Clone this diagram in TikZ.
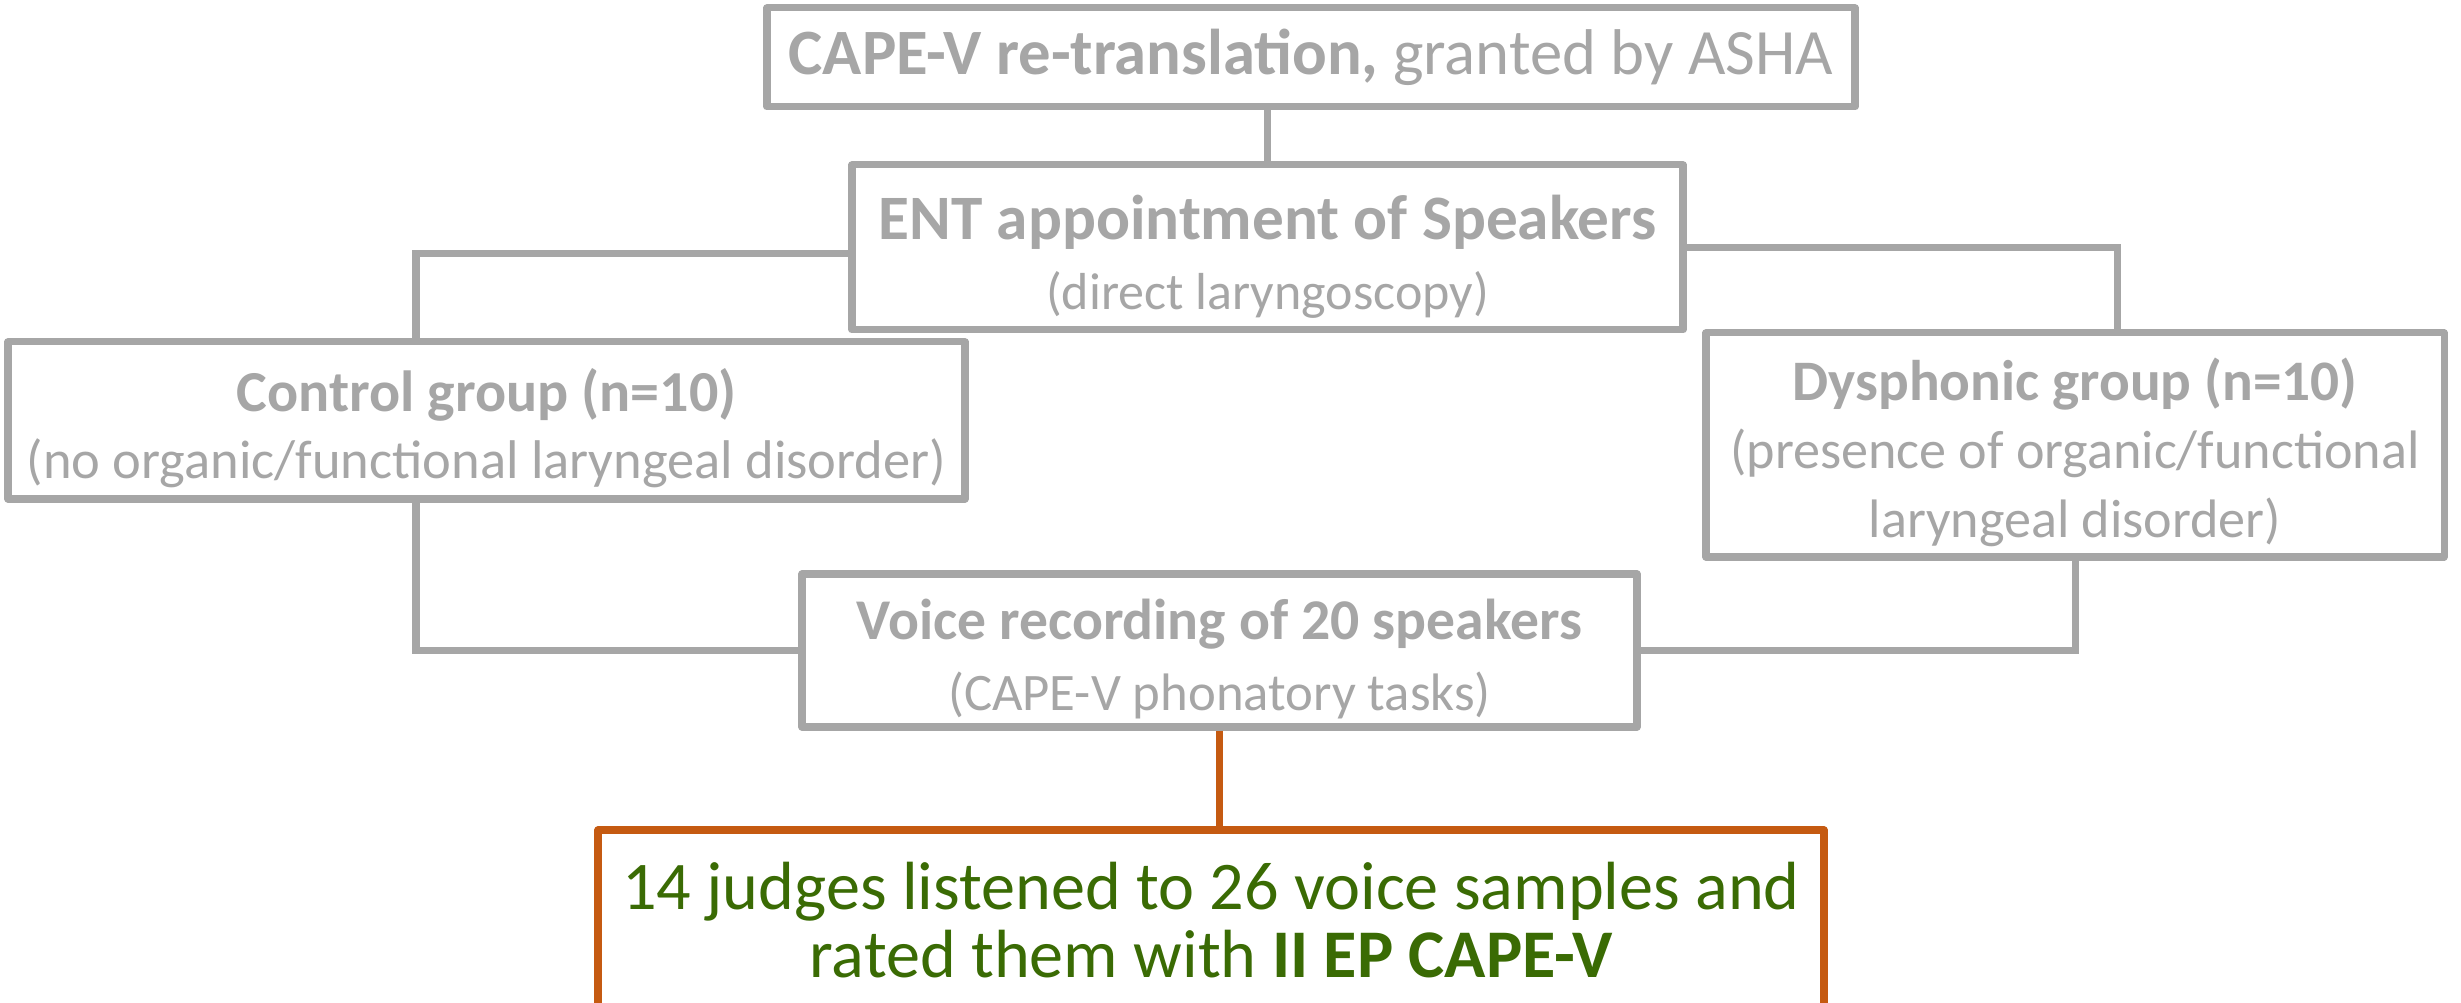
\documentclass[tikz,border=0pt]{standalone}
\usepackage{fontspec}
\setmainfont{Carlito}
\definecolor{boxgray}{HTML}{A6A6A6}
\definecolor{rust}{HTML}{C55A11}
\definecolor{leaf}{HTML}{3A6B04}
% smaller upright text for the second lines
\newcommand{\smalltext}[2]{{\fontsize{#1}{20}\selectfont #2}}
% pushes a multi-line box's text a little down
\newcommand{\topgap}{\rule{0pt}{1em}}
\begin{document}
\begin{tikzpicture}[
    box/.style={draw=boxgray, line width=2pt, line join=round, fill=white,
        inner sep=0pt, align=center, text=boxgray},
    link/.style={draw=boxgray, line width=2pt},
    fs/.style 2 args={font=\fontsize{#1}{#2}\selectfont}
  ]
            \fill[white] (0,0) rectangle (24.61,-10.03);
            \useasboundingbox (0,0) rectangle (24.61,-10.03);

            \coordinate (Tp) at (13.11,-0.575);
            \coordinate (Ep) at (12.675,-2.475);
            \coordinate (Cp) at (4.865,-4.205);
            \coordinate (Dp) at (20.75,-4.45);
            \coordinate (Vp) at (12.195,-6.505);
            \coordinate (Jp) at (12.11,-9.2);
            % where the side branches drop
            \coordinate (Cx) at (4.16,0);
            \coordinate (Dx) at (21.17,0);

            \node[box, fs={18.4}{20}, minimum width=10.88cm, minimum height=0.99cm] (T) at (Tp)
                {\textbf{CAPE-V re-translation,} granted by ASHA};
            \node[box, fs={18}{20}, minimum width=8.31cm, minimum height=1.65cm] (E) at (Ep)
                {\topgap\textbf{ENT appointment of Speakers}\\\smalltext{14.8}{(direct laryngoscopy)}};
            \node[box, fs={16.5}{19.2}, minimum width=9.57cm, minimum height=1.57cm] (C) at (Cp)
                {\topgap\textbf{Control group (n=10)}\\\smalltext{15.5}{(no organic/functional laryngeal disorder)}};
            \node[box, fs={16.3}{19.4}, minimum width=7.38cm, minimum height=2.24cm] (D) at (Dp)
                {\topgap\textbf{Dysphonic group (n=10)}\\\smalltext{15.4}{(presence of organic/functional}\\\smalltext{15.4}{laryngeal disorder)}};
            \node[box, fs={16.4}{20}, minimum width=8.35cm, minimum height=1.53cm] (V) at (Vp)
                {\topgap\textbf{Voice recording of 20 speakers}\\\smalltext{15}{(CAPE-V phonatory tasks)}};
            \node[box, draw=rust, text=leaf, fs={19.4}{19.2}, minimum width=12.26cm, minimum height=1.8cm] (J) at (Jp)
                {14 judges listened to 26 voice samples and\\rated them with \textbf{II EP CAPE-V}};

            \draw[link] (E.north) -- (E.north |- T.south);
            \draw[link] ([yshift=-0.065cm]E.west) -| (C.north -| Cx);
            \draw[link] (E.east) -| (D.north -| Dx);
            \draw[link] (C.south -| Cx) |- (V.west);
            \draw[link] (D.south) |- (V.east);
            \draw[link, draw=rust] (V.south) -- (V.south |- J.north);

        \end{tikzpicture}
\end{document}
